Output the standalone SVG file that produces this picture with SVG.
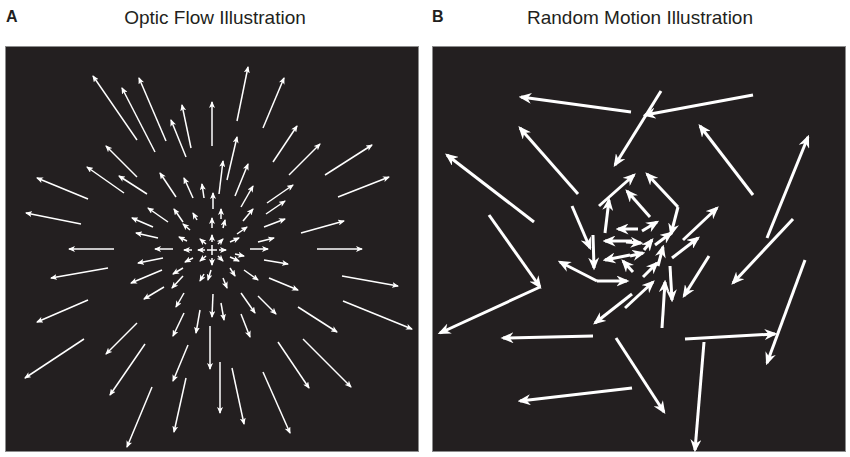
<svg xmlns="http://www.w3.org/2000/svg" width="850" height="457" viewBox="0 0 850 457">
<defs>
<marker id="ha" markerUnits="userSpaceOnUse" markerWidth="7" markerHeight="6" viewBox="0 0 7 6" refX="6" refY="3" orient="auto"><path d="M0,0 L7,3 L0,6 L1.8,3 z" fill="#fff"/></marker>
<marker id="hb" markerUnits="userSpaceOnUse" markerWidth="13" markerHeight="11" viewBox="0 0 13 11" refX="10.5" refY="5.5" orient="auto"><path d="M0,0 L13,5.5 L0,11 L4,5.5 z" fill="#fff"/></marker>
</defs>
<style>
.t{font-family:"Liberation Sans",Arial,sans-serif;fill:#231f20}
.lab{font-weight:bold;font-size:16px}
.ttl{font-size:19px;text-anchor:middle}
.panel{fill:#231f20;stroke:#8c8c8c;stroke-width:1}
#arrowsA line{stroke:#fff;stroke-width:1.5;marker-end:url(#ha)}
#arrowsB line{stroke:#fff;stroke-width:3;marker-end:url(#hb)}
</style>
<rect width="850" height="457" fill="#fff"/>
<g id="panelA">
<text class="t lab" x="6" y="22">A</text>
<text class="t ttl" x="215" y="24">Optic Flow Illustration</text>
<rect class="panel" x="5.5" y="46.5" width="413" height="405"/>
</g>
<g id="panelB">
<text class="t lab" x="432" y="22">B</text>
<text class="t ttl" x="640" y="24">Random Motion Illustration</text>
<rect class="panel" x="432.5" y="46.5" width="413" height="405"/>
</g>
<g id="arrowsA">
<line x1="137" y1="140" x2="93" y2="76"/>
<line x1="155" y1="152" x2="122" y2="88"/>
<line x1="166" y1="141" x2="139" y2="78"/>
<line x1="191" y1="148" x2="182" y2="105"/>
<line x1="186" y1="157" x2="171" y2="120"/>
<line x1="212" y1="146" x2="212" y2="102"/>
<line x1="137" y1="177" x2="106" y2="146"/>
<line x1="88" y1="199" x2="37" y2="178"/>
<line x1="124" y1="193" x2="87" y2="167"/>
<line x1="147" y1="194" x2="119" y2="176"/>
<line x1="176" y1="197" x2="160" y2="173"/>
<line x1="193" y1="198" x2="184" y2="178"/>
<line x1="81" y1="224" x2="26" y2="213"/>
<line x1="168" y1="222" x2="148" y2="208"/>
<line x1="183" y1="222" x2="174" y2="209"/>
<line x1="153" y1="227" x2="132" y2="218"/>
<line x1="204" y1="198" x2="202" y2="184"/>
<line x1="197" y1="220" x2="193" y2="213"/>
<line x1="158" y1="238" x2="136" y2="233"/>
<line x1="114" y1="249" x2="69" y2="249"/>
<line x1="173" y1="249" x2="155" y2="249"/>
<line x1="237" y1="121" x2="248" y2="67"/>
<line x1="263" y1="128" x2="284" y2="78"/>
<line x1="273" y1="162" x2="297" y2="126"/>
<line x1="289" y1="175" x2="320" y2="144"/>
<line x1="325" y1="175" x2="372" y2="145"/>
<line x1="338" y1="197" x2="389" y2="177"/>
<line x1="301" y1="233" x2="344" y2="221"/>
<line x1="227" y1="180" x2="237" y2="137"/>
<line x1="219" y1="194" x2="223" y2="161"/>
<line x1="235" y1="196" x2="248" y2="164"/>
<line x1="241" y1="207" x2="253" y2="186"/>
<line x1="267" y1="203" x2="293" y2="185"/>
<line x1="266" y1="214" x2="285" y2="201"/>
<line x1="264" y1="227" x2="285" y2="219"/>
<line x1="243" y1="221" x2="253" y2="209"/>
<line x1="237" y1="234" x2="247" y2="227"/>
<line x1="258" y1="242" x2="274" y2="238"/>
<line x1="230" y1="242" x2="239" y2="238"/>
<line x1="213" y1="209" x2="213" y2="193"/>
<line x1="221" y1="219" x2="221" y2="209"/>
<line x1="223" y1="228" x2="225" y2="220"/>
<line x1="250" y1="249" x2="268" y2="249"/>
<line x1="317" y1="249" x2="362" y2="249"/>
<line x1="108" y1="268" x2="51" y2="278"/>
<line x1="163" y1="258" x2="138" y2="263"/>
<line x1="162" y1="270" x2="131" y2="283"/>
<line x1="164" y1="287" x2="144" y2="299"/>
<line x1="88" y1="300" x2="37" y2="322"/>
<line x1="84" y1="339" x2="25" y2="378"/>
<line x1="137" y1="323" x2="106" y2="354"/>
<line x1="145" y1="344" x2="110" y2="395"/>
<line x1="152" y1="387" x2="127" y2="447"/>
<line x1="188" y1="345" x2="173" y2="381"/>
<line x1="186" y1="378" x2="174" y2="432"/>
<line x1="210" y1="326" x2="210" y2="369"/>
<line x1="213" y1="294" x2="212" y2="317"/>
<line x1="200" y1="310" x2="196" y2="333"/>
<line x1="184" y1="293" x2="176" y2="307"/>
<line x1="184" y1="313" x2="173" y2="336"/>
<line x1="183" y1="276" x2="172" y2="288"/>
<line x1="183" y1="268" x2="173" y2="274"/>
<line x1="193" y1="258" x2="185" y2="262"/>
<line x1="204" y1="274" x2="200" y2="281"/>
<line x1="211" y1="270" x2="208" y2="280"/>
<line x1="264" y1="260" x2="288" y2="264"/>
<line x1="342" y1="276" x2="398" y2="286"/>
<line x1="269" y1="278" x2="298" y2="290"/>
<line x1="343" y1="301" x2="412" y2="329"/>
<line x1="298" y1="307" x2="337" y2="332"/>
<line x1="303" y1="339" x2="351" y2="387"/>
<line x1="278" y1="342" x2="309" y2="388"/>
<line x1="263" y1="372" x2="290" y2="433"/>
<line x1="232" y1="368" x2="244" y2="424"/>
<line x1="220" y1="362" x2="220" y2="413"/>
<line x1="221" y1="303" x2="224" y2="320"/>
<line x1="241" y1="293" x2="255" y2="313"/>
<line x1="258" y1="296" x2="276" y2="314"/>
<line x1="241" y1="314" x2="250" y2="337"/>
<line x1="244" y1="270" x2="258" y2="280"/>
<line x1="230" y1="268" x2="235" y2="276"/>
<line x1="223" y1="278" x2="227" y2="288"/>
<line x1="230" y1="257" x2="239" y2="261"/>
<line x1="235" y1="254" x2="244" y2="256"/>
<line x1="219" y1="250" x2="226" y2="250"/>
<line x1="212" y1="242" x2="212" y2="235"/>
<line x1="205" y1="250" x2="198" y2="250"/>
<line x1="212" y1="258" x2="212" y2="265"/>
<line x1="206" y1="244" x2="200" y2="239"/>
<line x1="206" y1="256" x2="200" y2="261"/>
<line x1="218" y1="256" x2="223" y2="261"/>
<line x1="218" y1="244" x2="223" y2="239"/>
<line x1="192" y1="250" x2="184" y2="250"/>
<line x1="187" y1="241" x2="179" y2="237"/>
<line x1="190" y1="230" x2="183" y2="224"/>
<line x1="212" y1="228" x2="212" y2="218"/>
</g>
<g id="centerA" stroke="#fff" stroke-width="1.5">
<line x1="207" y1="250" x2="217" y2="250"/>
<line x1="212" y1="245" x2="212" y2="255"/>
</g>
<g id="arrowsB">
<line x1="631" y1="112" x2="521" y2="97"/>
<line x1="578" y1="194" x2="520" y2="128"/>
<line x1="534" y1="222" x2="447" y2="155"/>
<line x1="661" y1="91" x2="615" y2="165"/>
<line x1="489" y1="215" x2="540" y2="287"/>
<line x1="540" y1="287" x2="440" y2="333"/>
<line x1="599" y1="206" x2="634" y2="175"/>
<line x1="572" y1="206" x2="590" y2="248"/>
<line x1="605" y1="233" x2="609" y2="200"/>
<line x1="638" y1="229" x2="618" y2="229"/>
<line x1="632" y1="241" x2="605" y2="241"/>
<line x1="650" y1="217" x2="627" y2="191"/>
<line x1="753" y1="95" x2="645" y2="115"/>
<line x1="753" y1="195" x2="700" y2="126"/>
<line x1="767" y1="238" x2="808" y2="137"/>
<line x1="793" y1="219" x2="733" y2="283"/>
<line x1="678" y1="207" x2="647" y2="174"/>
<line x1="678" y1="207" x2="671" y2="234"/>
<line x1="683" y1="240" x2="717" y2="208"/>
<line x1="642" y1="231" x2="657" y2="222"/>
<line x1="655" y1="245" x2="671" y2="233"/>
<line x1="593" y1="235" x2="594" y2="268"/>
<line x1="597" y1="281" x2="560" y2="262"/>
<line x1="597" y1="281" x2="627" y2="281"/>
<line x1="632" y1="294" x2="595" y2="323"/>
<line x1="625" y1="308" x2="653" y2="282"/>
<line x1="593" y1="336" x2="503" y2="338"/>
<line x1="632" y1="388" x2="520" y2="401"/>
<line x1="616" y1="338" x2="664" y2="412"/>
<line x1="630" y1="255" x2="605" y2="260"/>
<line x1="633" y1="272" x2="623" y2="261"/>
<line x1="643" y1="277" x2="657" y2="263"/>
<line x1="658" y1="266" x2="663" y2="247"/>
<line x1="662" y1="328" x2="665" y2="282"/>
<line x1="670" y1="266" x2="672" y2="300"/>
<line x1="709" y1="256" x2="684" y2="296"/>
<line x1="672" y1="258" x2="698" y2="238"/>
<line x1="805" y1="260" x2="767" y2="363"/>
<line x1="685" y1="339" x2="775" y2="334"/>
<line x1="704" y1="342" x2="695" y2="450"/>
<line x1="626" y1="242" x2="641" y2="243"/>
<line x1="630" y1="256" x2="643" y2="253"/>
<line x1="644" y1="250" x2="652" y2="240"/>
</g>
</svg>
